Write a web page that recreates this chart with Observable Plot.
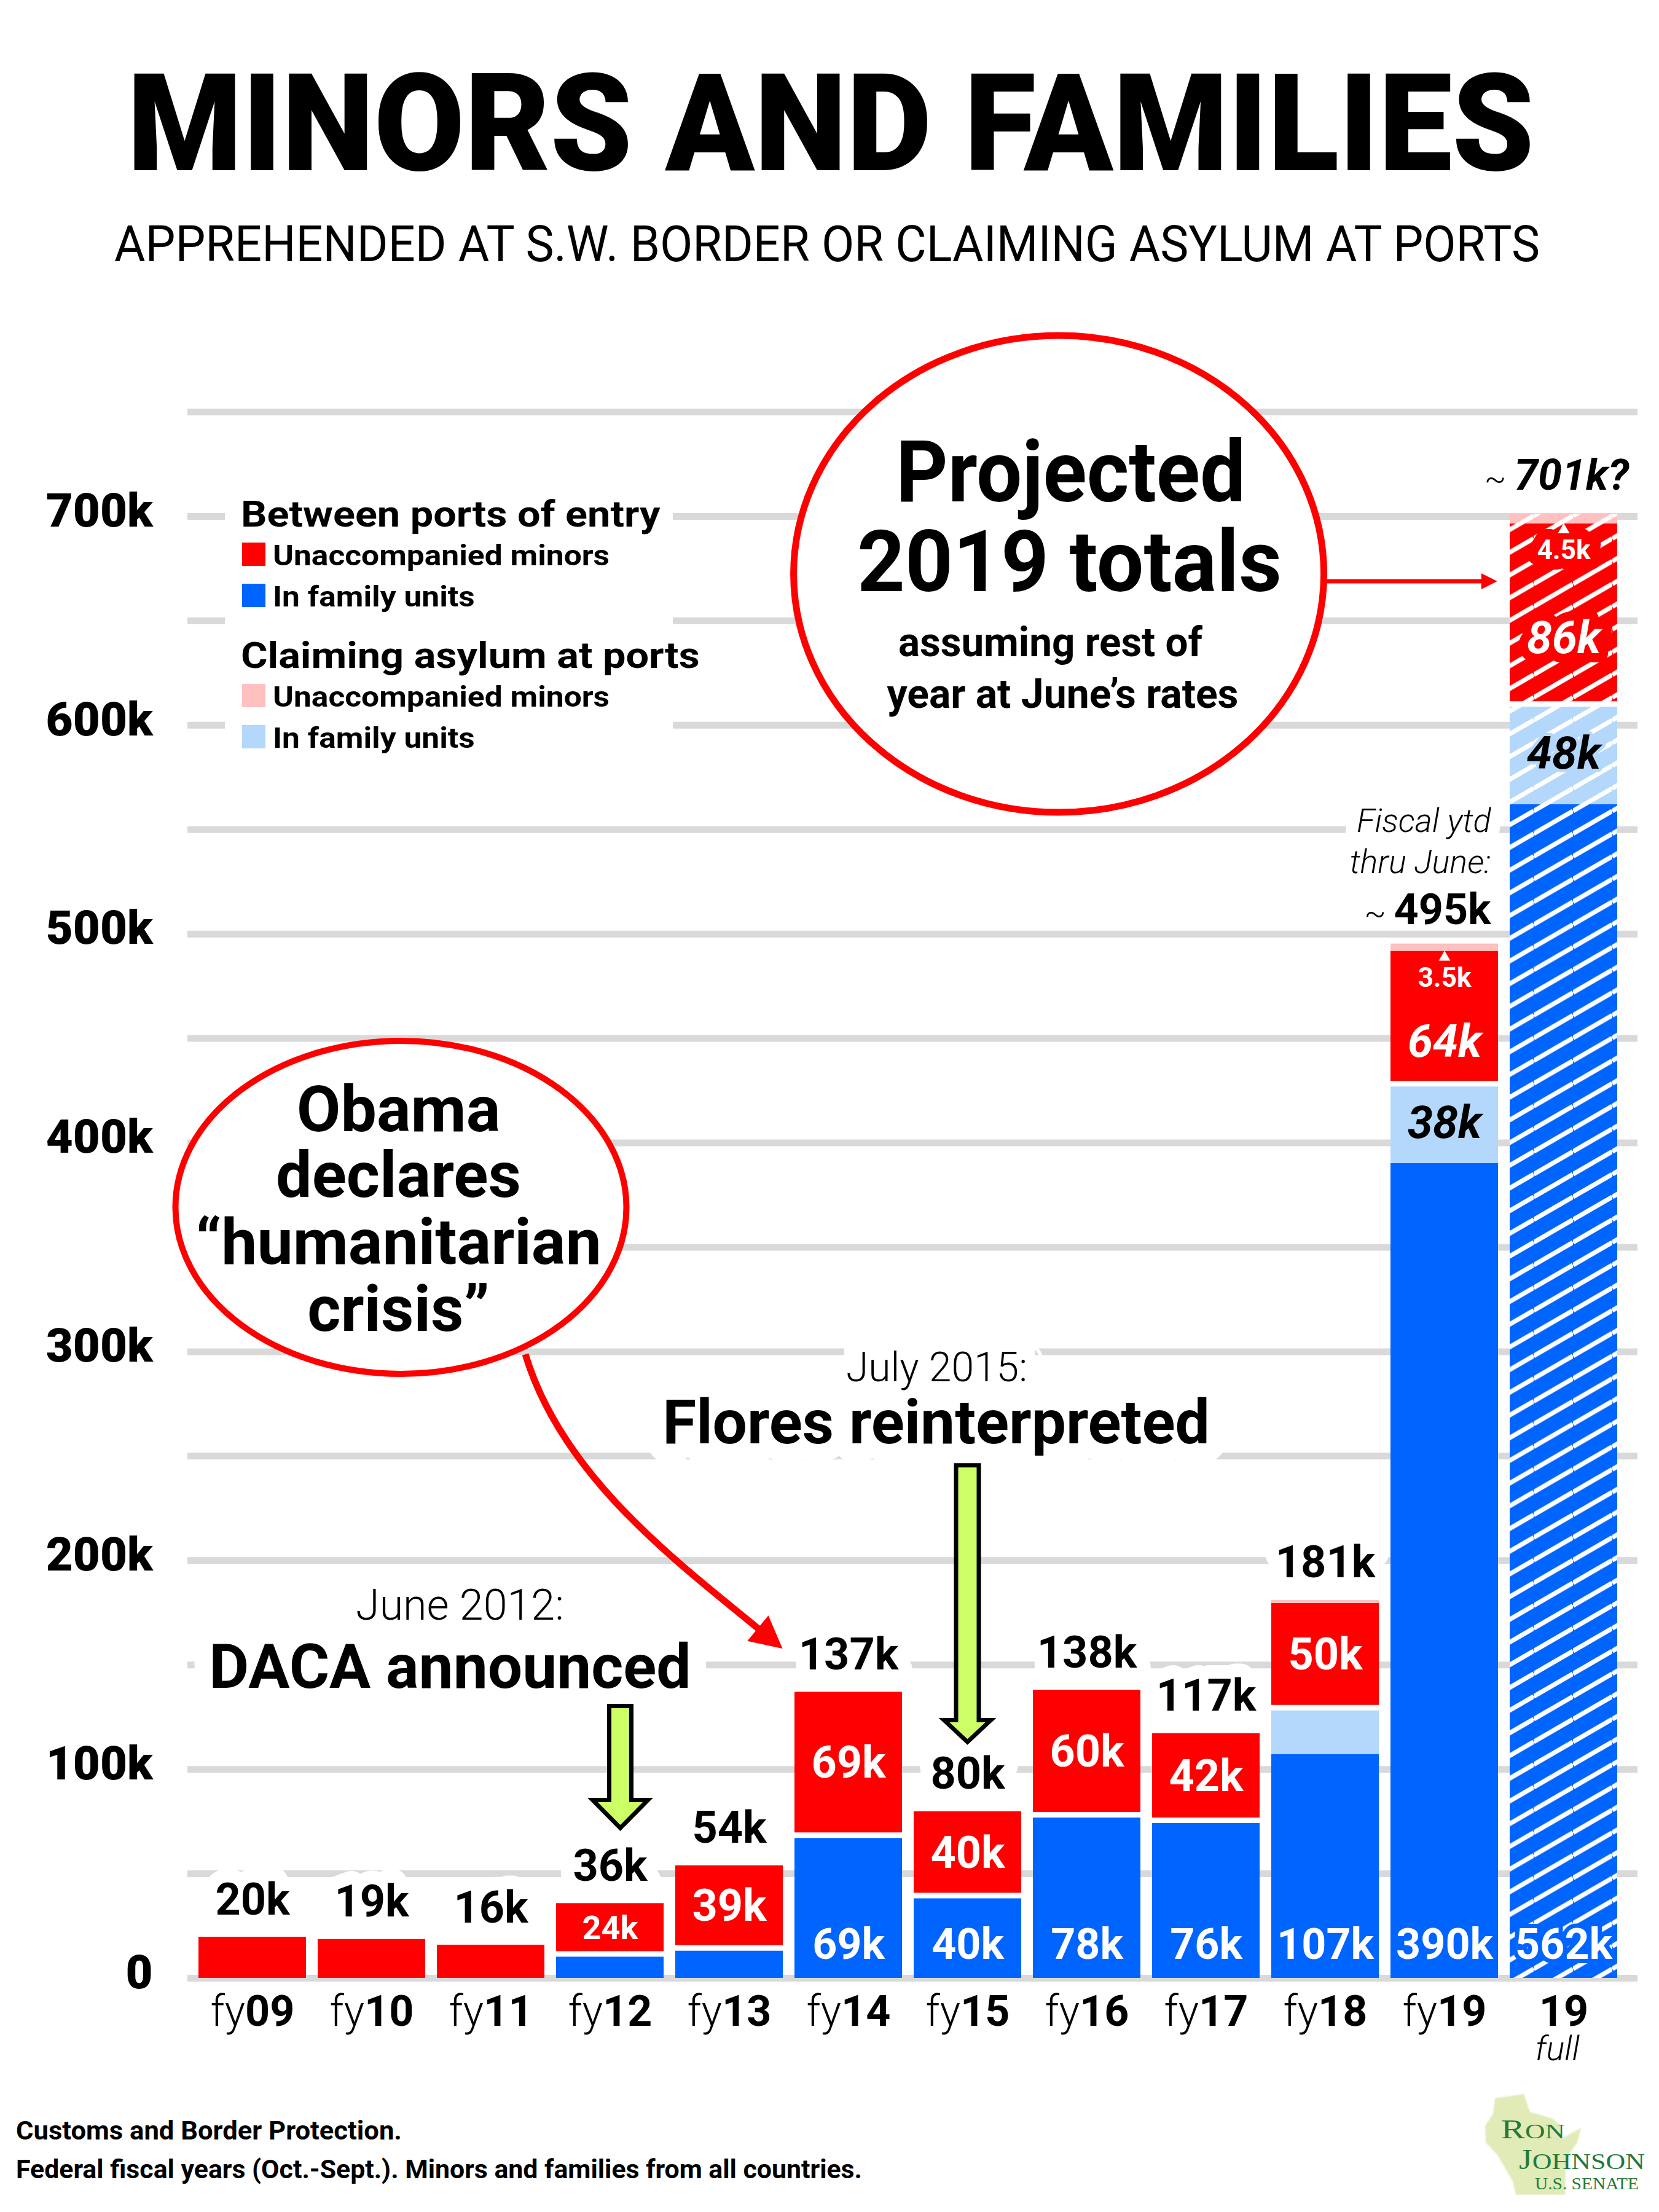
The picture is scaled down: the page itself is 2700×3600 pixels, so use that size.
<!DOCTYPE html>
<html>
<head>
<meta charset="utf-8">
<title>Minors and families</title>
<script src="https://cdn.jsdelivr.net/npm/d3@7"></script>
<script src="https://cdn.jsdelivr.net/npm/@observablehq/plot@0.6"></script>
<style>
  html, body { margin: 0; padding: 0; background: #fff; }
  #page { position: relative; width: 2700px; height: 3600px; background: #fff; overflow: hidden; }
  #page > svg { display: block; }
</style>
</head>
<body>
<div id="page"></div>
<script>
// Fiscal years on the x axis ("19full" = projected full fiscal 2019)
const years = ["fy09", "fy10", "fy11", "fy12", "fy13", "fy14", "fy15", "fy16", "fy17", "fy18", "fy19", "19full"];

// Thousands of people per fiscal year
const familyBetween = [0, 0, 0, 11.6, 14.5, 68.5, 39.6, 78.3, 75.6, 107.2, 390.2, 562.0]; // family units, between ports
const familyPorts   = [0, 0, 0, 0, 0, 0, 0, 0, 0, 22.3, 38.1, 48.2];                         // family units claiming asylum at ports
const uacBetween    = [19.7, 18.6, 15.9, 24.2, 39.4, 68.5, 40.2, 59.7, 41.6, 50.0, 63.5, 86.3]; // unaccompanied minors, between ports
const uacPorts      = [0, 0, 0, 0, 0, 0, 0, 0, 0, 1.5, 3.5, 4.5];                            // unaccompanied minors at ports

// Axis ticks and grid
const yTickValues = [0, 100, 200, 300, 400, 500, 600, 700];
const gridValues = [0, 50, 100, 150, 200, 250, 300, 350, 400, 450, 500, 550, 600, 650, 700, 750];

// Series, bottom to top of each stack
const seriesKeys = ["familyBetween", "familyPorts", "uacBetween", "uacPorts"];
const seriesColors = ["#0064ff", "#b4d7fc", "#ff0000", "#ffc0c0"];

// Legend
const legendGroups = [
  {title: "Between ports of entry", items: [["Unaccompanied minors", "uacBetween"], ["In family units", "familyBetween"]]},
  {title: "Claiming asylum at ports", items: [["Unaccompanied minors", "uacPorts"], ["In family units", "familyPorts"]]}
];

const titleText = "MINORS AND FAMILIES";
const subtitleText = "APPREHENDED AT S.W. BORDER OR CLAIMING ASYLUM AT PORTS";
const sourceLines = ["Customs and Border Protection.", "Federal fiscal years (Oct.-Sept.). Minors and families from all countries."];

const FONT = "Roboto, 'Liberation Sans', Arial, sans-serif";
const RED = "#ff0000", LIME = "#ccff66", GRID = "#d9d9d9";
const HATCHED = "19full";
const is2019 = y => y === "fy19" || y === HATCHED;

const seriesValues = [familyBetween, familyPorts, uacBetween, uacPorts];
const colorOf = Object.fromEntries(seriesKeys.map((k, i) => [k, seriesColors[i]]));
const fmtK = v => `${Math.round(v)}k`;
const fmtK1 = v => `${v.toFixed(1)}k`;

const rows = years.flatMap((year, i) => seriesKeys.map((series, j) => ({year, series, value: seriesValues[j][i]})));

const stacks = years.map((year, i) => {
  const fb = familyBetween[i], fp = familyPorts[i], ub = uacBetween[i], up = uacPorts[i];
  return {year, fb, fp, ub, up, fam: fb + fp, total: fb + fp + ub + up};
});

// Value labels, derived from the same numbers as the bars
const totalLabels = stacks.filter(s => !is2019(s.year)).map(s => ({year: s.year, y: s.total, text: fmtK(s.total)}));
const uacLabels = stacks.filter(s => s.fam > 0 && s.ub >= 20)
  .map(s => ({year: s.year, series: "uacBetween", y: s.fam + s.ub / 2, text: fmtK(s.ub), small: s.ub < 30}));
const famLabels = stacks.filter(s => s.fb >= 30).map(s => ({year: s.year, series: "familyBetween", y: 0, text: fmtK(s.fb)}));
const portFamLabels = stacks.filter(s => s.fp >= 30).map(s => ({year: s.year, series: "familyPorts", y: s.fb + s.fp / 2, text: fmtK(s.fp)}));
const portUacLabels = stacks.filter(s => s.up >= 3).map(s => ({year: s.year, series: "uacBetween", y: s.fam + s.ub, text: fmtK1(s.up)}));

// Text helper for hand-placed SVG text; a halo can go to a separate layer drawn underneath
function addText(parent, o) {
  if (o.halo && o.haloLayer) {
    addText(o.haloLayer, {...o, haloLayer: null, fill: o.haloColor ?? "white"});
    o = {...o, halo: 0};
  }
  const t = parent.append("text")
    .attr("x", o.x).attr("y", o.y)
    .attr("text-anchor", o.anchor ?? "middle")
    .attr("font-family", o.family ?? FONT)
    .attr("font-size", o.size ?? null)
    .attr("font-weight", o.weight ?? 700)
    .attr("font-style", o.style ?? "normal")
    .attr("fill", o.fill ?? "black");
  if (o.halo) t.attr("stroke", o.haloColor ?? "white").attr("stroke-width", o.halo)
    .attr("stroke-linejoin", "round").attr("paint-order", "stroke");
  if (o.length) t.attr("textLength", o.length).attr("lengthAdjust", "spacingAndGlyphs");
  if (o.stretch) t.attr("data-stretch", o.stretch);
  if (o.parts) {
    for (const p of o.parts) {
      const s = t.append("tspan").text(p.text);
      if (p.size) s.attr("font-size", p.size);
      if (p.weight) s.attr("font-weight", p.weight);
      if (p.style) s.attr("font-style", p.style);
    }
  } else t.text(o.text);
  return t;
}

// Filled triangular head; returns the point where the shaft should stop
function arrowHead(g, tip, from, len, half, color) {
  const a = Math.atan2(tip[1] - from[1], tip[0] - from[0]);
  const bx = tip[0] - len * Math.cos(a), by = tip[1] - len * Math.sin(a);
  const nx = -Math.sin(a) * half, ny = Math.cos(a) * half;
  g.append("path").attr("d", `M${tip[0]},${tip[1]}L${bx + nx},${by + ny}L${bx - nx},${by - ny}Z`).attr("fill", color);
  return [bx, by];
}

// Lime block arrow with black outline
function blockArrow(g, cx, yTop, yHead, yTip, shaft, head) {
  g.append("path")
    .attr("d", `M${cx - shaft},${yTop}H${cx + shaft}V${yHead}H${cx + head}L${cx},${yTip}L${cx - head},${yHead}H${cx - shaft}Z`)
    .attr("fill", LIME).attr("stroke", "black").attr("stroke-width", 7).attr("stroke-linejoin", "miter");
}

// Callouts, legend and notes, positioned with the chart's own scales
function annotate(index, scales) {
  const bw = typeof scales.x.bandwidth === "function" ? scales.x.bandwidth() : 175;
  const X = (cat, dx = 0) => scales.x(cat) + bw / 2 + dx;
  const Y = v => scales.y(v);
  const g = d3.create("svg:g").attr("font-family", FONT);
  const haloLayer = g.append("g"); // white halos that mask the grid behind notes

  // Legend
  const lg = g.append("g");
  lg.append("rect").attr("x", 366).attr("y", 330).attr("width", 729).attr("height", 432).attr("fill", "white");
  legendGroups.forEach((grp, gi) => {
    const base = 387 + gi * 230;
    addText(lg, {x: 392, y: base, anchor: "start", size: 60, text: grp.title, stretch: 1.11});
    grp.items.forEach(([text, key], j) => {
      const sy = base + 26 + j * 67;
      lg.append("rect").attr("x", 394).attr("y", sy).attr("width", 38).attr("height", 38).attr("fill", colorOf[key]);
      addText(lg, {x: 444, y: sy + 37, anchor: "start", size: 46, text, stretch: 1.12});
    });
  });

  // June 2012: DACA announced
  addText(g, {x: X("fy11", -50), y: Y(171.5), size: 70, weight: 300, text: "June 2012:", halo: 60, haloLayer});
  addText(g, {x: X("fy11", -66), y: Y(138.9), size: 100, weight: 700, text: "DACA announced", halo: 60, haloLayer});
  blockArrow(g, X("fy12", 17), Y(130.2), Y(85.2), Y(71.8), 18, 45);

  // July 2015: Flores reinterpreted
  addText(g, {x: X("fy15", -50), y: Y(285.7), size: 66, weight: 300, text: "July 2015:", halo: 60, haloLayer});
  addText(g, {x: X("fy15", -51), y: Y(256.0), size: 100, weight: 700, text: "Flores reinterpreted", halo: 60, haloLayer});
  blockArrow(g, X("fy15"), Y(245.5), Y(123.4), Y(113.0), 18.5, 38);

  // Obama callout with curved arrow to fy14
  const p0 = [X("fy11", 56.5), Y(298.6)], c1 = [X("fy11", 116.5), Y(239.8)];
  const c2 = [X("fy14", -277), Y(198.9)], p2 = [X("fy14", -107), Y(157.7)];
  const ob = g.append("g");
  const endAngle = Math.atan2(p2[1] - c2[1], p2[0] - c2[0]);
  const obBase = [p2[0] - 46 * Math.cos(endAngle), p2[1] - 46 * Math.sin(endAngle)];
  ob.append("path").attr("d", `M${p0}C${c1} ${c2} ${obBase}`).attr("fill", "none").attr("stroke", RED).attr("stroke-width", 11);
  arrowHead(ob, p2, c2, 52, 27, RED);
  ob.append("ellipse").attr("cx", X("fy10", 48)).attr("cy", Y(369)).attr("rx", 367).attr("ry", 271)
    .attr("fill", "white").attr("stroke", RED).attr("stroke-width", 10);
  [["Obama", 405.4], ["declares", 374.0], ["\u201chumanitarian", 341.9], ["crisis\u201d", 309.8]].forEach(([t, v]) =>
    addText(ob, {x: X("fy10", 44), y: Y(v), size: 104, weight: 700, text: t}));

  // Projected 2019 totals callout
  const pr = g.append("g");
  const prStart = [X("fy18", 2.5), Y(668.8)], prTip = [X(HATCHED, -107.7), Y(668.8)];
  const prBase = arrowHead(pr, prTip, prStart, 26, 13, RED);
  pr.append("line").attr("x1", prStart[0]).attr("y1", prStart[1]).attr("x2", prBase[0] + 1).attr("y2", prBase[1])
    .attr("stroke", RED).attr("stroke-width", 7);
  pr.append("ellipse").attr("cx", X("fy16", -45.4)).attr("cy", Y(672.3)).attr("rx", 431.5).attr("ry", 388)
    .attr("fill", "white").attr("stroke", RED).attr("stroke-width", 11);
  addText(pr, {x: X("fy16", -26), y: Y(707.0), size: 139, text: "Projected", length: 569});
  addText(pr, {x: X("fy16", -28), y: Y(664.1), size: 139, text: "2019 totals", length: 691});
  addText(pr, {x: X("fy16", -59), y: Y(632.9), size: 66, text: "assuming rest of", length: 495});
  addText(pr, {x: X("fy16", -39), y: Y(608.3), size: 66, text: "year at June\u2019s rates", length: 572});

  // Fiscal year-to-date total beside fy19
  const ytd = stacks.find(s => s.year === "fy19");
  const ytdTop = Y(ytd.total), ytdX = X("fy19", 76);
  addText(g, {x: ytdX, y: ytdTop - 182, anchor: "end", size: 54, weight: 300, style: "italic", text: "Fiscal ytd", halo: 40, haloLayer});
  addText(g, {x: ytdX, y: ytdTop - 115, anchor: "end", size: 54, weight: 300, style: "italic", text: "thru June:", halo: 40, haloLayer});
  addText(g, {x: ytdX, y: ytdTop - 32, anchor: "end",
    parts: [{text: "~ ", size: 52, weight: 300}, {text: fmtK(ytd.total), size: 70, weight: 700}]});

  // Projected full-year total
  const full = stacks.find(s => s.year === HATCHED);
  addText(g, {x: X(HATCHED, -11), y: Y(full.total) - 40, halo: 30, haloLayer,
    parts: [{text: "~ ", size: 52, weight: 300}, {text: `${fmtK(full.total)}?`, size: 70, weight: 700, style: "italic"}]});
  addText(g, {x: X(HATCHED, -10), y: Y(0) + 134, size: 56, weight: 300, style: "italic", text: "full"});

  return g.node();
}

// Paired marks for labels inside bars: a solid patch on the hatched bar, then the text
function labelMarks(data, {dy = 0, fontSize = 72, fontStyle = "normal", fill = "white", halo = 26} = {}) {
  const common = {x: "year", y: "y", text: "text", dy, fontSize, fontStyle, fontWeight: 700, fontFamily: FONT};
  return [
    Plot.text(data.filter(d => d.year === HATCHED), {...common, fill: "series", stroke: "series", strokeWidth: halo}),
    Plot.text(data, {...common, fill})
  ];
}

const page = d3.select("#page");

// Title block
const header = page.append("svg").attr("width", 2700).attr("height", 470);
addText(header, {x: 207, y: 277, anchor: "start", size: 221, weight: 900, text: titleText, length: 2290});
addText(header, {x: 186, y: 425, anchor: "start", size: 82, weight: 400, text: subtitleText, length: 2320});

// Chart
const chart = Plot.plot({
  width: 2700,
  height: 2900,
  marginTop: 200,
  marginBottom: 151,
  marginLeft: 305,
  marginRight: 35,
  style: {fontFamily: FONT, background: "white", color: "black"},
  x: {domain: years, paddingInner: 0.1, paddingOuter: 0.05, insetLeft: 5, insetRight: 20},
  y: {domain: [0, 750]},
  color: {domain: seriesKeys, range: seriesColors},
  marks: [
    Plot.ruleY(gridValues, {stroke: GRID, strokeWidth: 11}),
    Plot.axisY(yTickValues, {tickSize: 0, tickPadding: 57, fontSize: 76, fontWeight: 900, fontFamily: FONT,
      tickFormat: d => d === 0 ? "0" : `${d}k`, dy: -8, label: null}),
    Plot.axisX({tickSize: 0, tickPadding: 28, fontSize: 70, fontFamily: FONT,
      tickFormat: d => d === HATCHED ? "19" : d, label: null}),
    Plot.barY(rows, Plot.stackY({x: "year", y: "value", fill: "series", order: seriesKeys})),
    Plot.barY(rows.filter(d => d.year === HATCHED),
      Plot.stackY({x: "year", y: "value", z: "series", order: seriesKeys, fill: "url(#hatch)"})),
    Plot.tickY(stacks.filter(s => s.fam > 0 && s.ub > 0), {x: "year", y: "fam", stroke: "white", strokeWidth: 9}),
    Plot.text(totalLabels, {x: "year", y: "y", text: "text", dy: -60, fontSize: 72, fontWeight: 700, fontFamily: FONT,
      fill: "black", stroke: "white", strokeWidth: 44}),
    ...labelMarks(uacLabels.filter(d => !is2019(d.year) && !d.small)),
    ...labelMarks(uacLabels.filter(d => d.small), {fontSize: 54}),
    ...labelMarks(uacLabels.filter(d => is2019(d.year)), {dy: 40, fontSize: 74, fontStyle: "italic", halo: 30}),
    ...labelMarks(famLabels, {dy: -54, fontSize: 70, halo: 14}),
    ...labelMarks(portFamLabels, {fontSize: 74, fontStyle: "italic", fill: "black", halo: 10}),
    ...labelMarks(portUacLabels, {dy: 44, fontSize: 44, halo: 34}),
    Plot.dot(portUacLabels, {x: "year", y: "y", dy: 10, symbol: "triangle", r: 7, fill: "white"}),
    annotate
  ]
});
page.node().appendChild(chart);

const svg = d3.select(chart);

// White stripes rising at 30 degrees for the projected bar (tile repeats seamlessly)
const HW = 64, HH = HW * Math.tan(Math.PI / 6);
const pattern = svg.insert("defs", ":first-child").append("pattern")
  .attr("id", "hatch").attr("patternUnits", "userSpaceOnUse")
  .attr("width", HW).attr("height", HH);
pattern.append("path")
  .attr("d", `M0,${HH}L${HW},0M0,${2 * HH}L${HW},${HH}M0,0L${HW},${-HH}`)
  .attr("stroke", "white").attr("stroke-width", 7.5).attr("fill", "none");

// Light "fy" prefix, bold year digits
svg.selectAll('g[aria-label="x-axis tick label"] text').each(function () {
  const t = this.textContent;
  const sel = d3.select(this).text(null);
  if (t.startsWith("fy")) {
    sel.append("tspan").attr("font-weight", 300).text("fy");
    sel.append("tspan").attr("font-weight", 700).text(t.slice(2));
  } else {
    sel.append("tspan").attr("font-weight", 700).text(t);
  }
});

// Widen legend lettering
svg.selectAll("[data-stretch]").each(function () {
  const w = this.getComputedTextLength() * +this.getAttribute("data-stretch");
  this.setAttribute("textLength", w);
  this.setAttribute("lengthAdjust", "spacingAndGlyphs");
});

// Source notes and logo
const footer = page.append("svg").attr("width", 2700).attr("height", 230);
addText(footer, {x: 26, y: 112, anchor: "start", size: 43, weight: 700, text: sourceLines[0], length: 628});
addText(footer, {x: 26, y: 175, anchor: "start", size: 43, weight: 700, text: sourceLines[1], length: 1377});

const logo = footer.append("g");
logo.append("defs").append("filter").attr("id", "soft").append("feGaussianBlur").attr("stdDeviation", 1.2);
logo.append("polygon")
  .attr("points", "2433,45 2480,38 2490,67 2527,78 2540,90 2543,110 2573,93 2567,117 2553,137 2548,163 2547,202 2467,202 2462,180 2437,137 2418,117 2417,90 2430,70")
  .attr("fill", "#e1ebb8").attr("filter", "url(#soft)");
const GREEN = "#237a3b";
addText(logo, {x: 2443, y: 110, anchor: "start", family: "'Liberation Serif', 'DejaVu Serif', serif", weight: 400, fill: GREEN,
  parts: [{text: "R", size: 44}, {text: "ON", size: 34}], length: 104});
addText(logo, {x: 2472, y: 160, anchor: "start", family: "'Liberation Serif', 'DejaVu Serif', serif", weight: 400, fill: GREEN,
  parts: [{text: "J", size: 46}, {text: "OHNSON", size: 36}], length: 205});
addText(logo, {x: 2498, y: 193, anchor: "start", family: "'Liberation Serif', 'DejaVu Serif', serif", weight: 400, fill: GREEN,
  size: 28, text: "U.S. SENATE", length: 169});
</script>
</body>
</html>
